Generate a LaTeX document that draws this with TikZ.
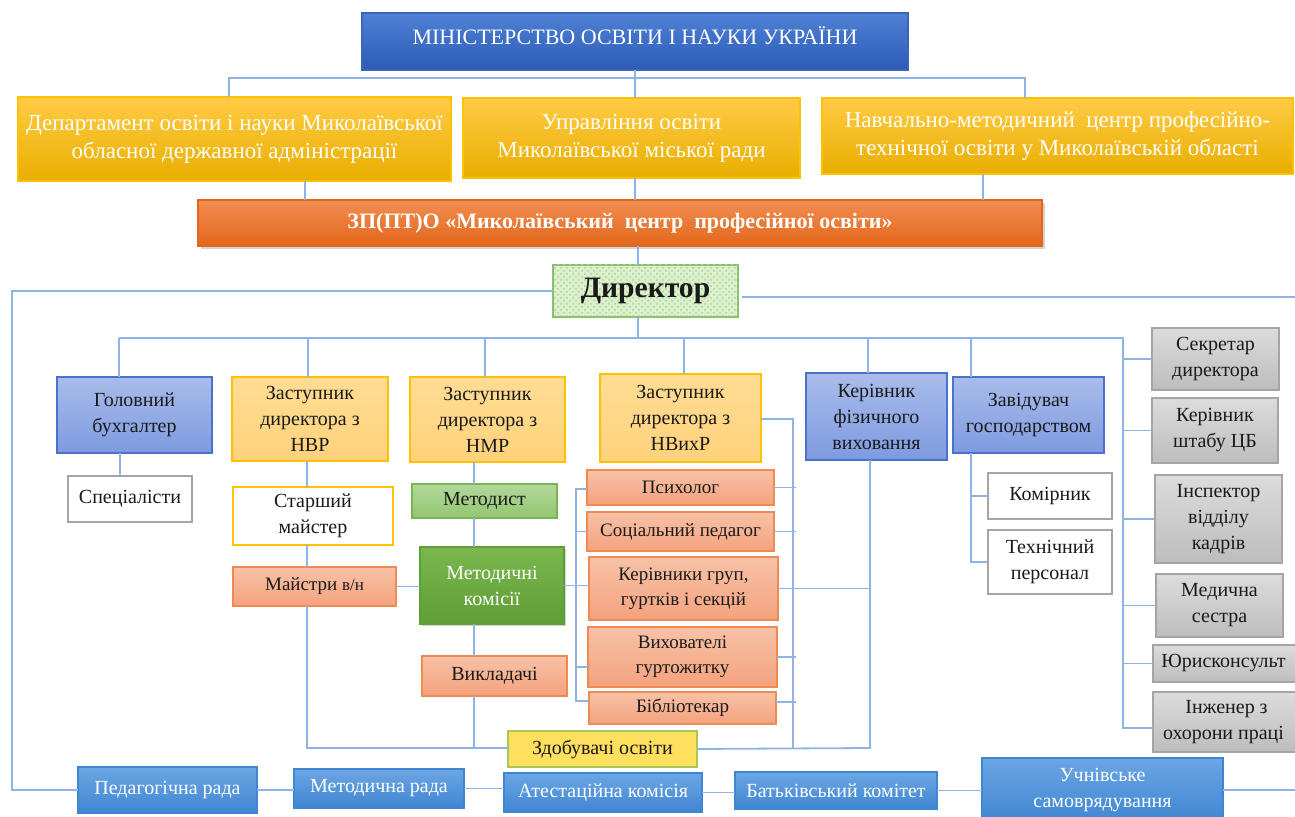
\documentclass[tikz,border=0pt]{standalone}
\usepackage{fontspec}
\setmainfont{Liberation Serif}
\usetikzlibrary{shadows,patterns}
\definecolor{lineblue}{HTML}{8FB4E3}
\definecolor{txt}{HTML}{1A1A1A}
\definecolor{minT}{HTML}{4F81D6}\definecolor{minB}{HTML}{2C5BB5}\definecolor{minD}{HTML}{3B66B8}
\definecolor{yelT}{HTML}{FFCB45}\definecolor{yelM}{HTML}{FFC000}\definecolor{yelB}{HTML}{E9AE00}
\definecolor{orT}{HTML}{F28D52}\definecolor{orB}{HTML}{E2671B}
\definecolor{dirF}{HTML}{DCF0CF}\definecolor{dirP}{HTML}{A8D58C}\definecolor{dirD}{HTML}{8AC06A}
\definecolor{mbT}{HTML}{A9BCEB}\definecolor{mbB}{HTML}{7E9AE0}\definecolor{mbD}{HTML}{4A72C8}
\definecolor{zT}{HTML}{FFDC94}\definecolor{zB}{HTML}{FFD27A}\definecolor{zD}{HTML}{FFC000}
\definecolor{saT}{HTML}{F8C2A7}\definecolor{saB}{HTML}{F4A27D}\definecolor{saD}{HTML}{EF8A52}
\definecolor{gmT}{HTML}{B2D89A}\definecolor{gmB}{HTML}{92C771}\definecolor{gmD}{HTML}{79B552}
\definecolor{gkT}{HTML}{7AB84F}\definecolor{gkB}{HTML}{5E9E35}
\definecolor{zdF}{HTML}{FFDF5E}\definecolor{zdD}{HTML}{A9C65B}
\definecolor{grT}{HTML}{DCDCDC}\definecolor{grB}{HTML}{BDBDBD}\definecolor{grD}{HTML}{A5A5A5}
\definecolor{bbT}{HTML}{6CA6E4}\definecolor{bbB}{HTML}{3F86D2}
\newcommand\mybox[7]{\node[#1, minimum width={(#5-#3)*0.5pt}, minimum height={(#6-#4)*0.5pt}] (#2) at ({(#3+#5)/2},{(#4+#6)/2}) {#7};}
\tikzset{
 base/.style={inner sep=1pt, outer sep=0pt, align=center, text=txt, line width=0.6pt},
 conn/.style={draw=lineblue, line width=0.9pt},
 fA/.style={font=\fontsize{11.5}{14}\selectfont},
 fB/.style={font=\fontsize{10}{13}\selectfont},
 fC/.style={font=\fontsize{9.5}{12.5}\selectfont},
 minbox/.style={base, draw=minD, top color=minT, bottom color=minB},
 yelbox/.style={base, fA, text=white, draw=yelM, top color=yelT, middle color=yelM, bottom color=yelB},
 orbox/.style={base, font=\fontsize{11}{14}\selectfont\bfseries, text=white, draw=orB, top color=orT, bottom color=orB,
   drop shadow={shadow xshift=1.5pt, shadow yshift=-1.5pt, opacity=0.35}},
 dirbox/.style={base, font=\fontsize{14.8}{18}\selectfont\bfseries, draw=dirD, fill=dirF,
   postaction={pattern=crosshatch dots, pattern color=dirP}},
 bluebox/.style={base, fB, draw=mbD, top color=mbT, bottom color=mbB},
 zbox/.style={base, fB, draw=zD, top color=zT, bottom color=zB},
 whitebox/.style={base, fB, draw=grD, fill=white},
 ywhitebox/.style={base, fB, draw=zD, fill=white},
 salbox/.style={base, fC, draw=saD, top color=saT, bottom color=saB},
 metbox/.style={base, fB, draw=gmD, top color=gmT, bottom color=gmB},
 mkbox/.style={base, fB, text=white, draw=gkB, top color=gkT, bottom color=gkB,
   drop shadow={shadow xshift=1.2pt, shadow yshift=-1.2pt, opacity=0.35}},
 zdbox/.style={base, fB, draw=zdD, fill=zdF},
 graybox/.style={base, fB, draw=grD, top color=grT, bottom color=grB},
 botbox/.style={base, fB, text=white, draw=bbB, top color=bbT, bottom color=bbB},
 lbl/.style={inner sep=0pt, align=center}
}
\begin{document}
\begin{tikzpicture}[x=0.5pt, y=-0.5pt]
\useasboundingbox (0,0) rectangle (1295,817);
% --- top level
\mybox{minbox}{min}{362}{13}{908}{70}{}
\node[lbl, text=white, font=\fontsize{11}{14}\selectfont] (mintext) at (635,36) {МІНІСТЕРСТВО ОСВІТИ І НАУКИ УКРАЇНИ};
\mybox{yelbox}{dep}{18}{97}{451}{181}{Департамент освіти і науки Миколаївської\\обласної державної адміністрації}
\mybox{yelbox}{upr}{463}{98}{800}{178}{Управління освіти\\Миколаївської міської ради}
\mybox{yelbox}{nmc}{822}{98}{1293}{174}{Навчально-методичний\ \ центр професійно-\\технічної освіти у Миколаївській області}
\mybox{orbox}{zp}{198}{200}{1042}{246}{ЗП(ПТ)О «Миколаївський\ \ центр\ \ професійної освіти»}
\mybox{dirbox}{dir}{553}{265}{738}{317}{Директор}
% --- second level
\mybox{bluebox}{gb}{57}{377}{212}{453}{Головний\\бухгалтер}
\mybox{zbox}{nvr}{232}{377}{388}{461}{Заступник\\директора з\\НВР}
\mybox{zbox}{nmr}{410}{377}{565}{462}{Заступник\\директора з\\НМР}
\mybox{zbox}{nvx}{600}{374}{761}{462}{Заступник\\директора з\\НВихР}
\mybox{bluebox}{kf}{806}{373}{947}{460}{Керівник\\фізичного\\виховання}
\mybox{bluebox}{zav}{953}{377}{1104}{453}{Завідувач\\господарством}
% --- third level
\mybox{whitebox}{spec}{68}{476}{192}{522}{Спеціалісти}
\mybox{ywhitebox}{stm}{233}{487}{393}{545}{Старший\\майстер}
\mybox{salbox}{mvn}{233}{567}{396}{606}{Майстри {\fontsize{8.5}{10}\selectfont в/н}}
\mybox{metbox}{met}{412}{484}{557}{518}{Методист}
\mybox{mkbox}{mk}{420}{547}{564}{624}{Методичні\\комісії}
\mybox{salbox}{vykl}{422}{656}{567}{696}{\fontsize{10}{13}\selectfont Викладачі}
\mybox{salbox}{psy}{587}{470}{774}{505}{Психолог}
\mybox{salbox}{soc}{587}{512}{774}{551}{Соціальний педагог}
\mybox{salbox}{kg}{589}{557}{778}{620}{Керівники груп,\\гуртків і секцій}
\mybox{salbox}{vyh}{588}{627}{777}{687}{Вихователі\\гуртожитку}
\mybox{salbox}{bib}{589}{692}{776}{724}{Бібліотекар}
\mybox{zdbox}{zdob}{508}{731}{697}{767}{Здобувачі освіти}
\mybox{whitebox}{kom}{988}{473}{1112}{519}{Комірник}
\mybox{whitebox}{tech}{988}{530}{1112}{594}{Технічний\\персонал}
% --- right column
\mybox{graybox}{sec}{1152}{328}{1279}{390}{Секретар\\директора}
\mybox{graybox}{sht}{1152}{398}{1278}{463}{Керівник\\штабу ЦБ}
\mybox{graybox}{insp}{1155}{475}{1282}{563}{Інспектор\\відділу\\кадрів}
\mybox{graybox}{med}{1156}{574}{1283}{637}{Медична\\сестра}
\mybox{graybox}{yur}{1153}{645}{1300}{682}{Юрисконсульт\hspace*{3pt}}
\mybox{graybox}{inzh}{1153}{692}{1300}{752}{Інженер з\\охорони праці\hspace*{3pt}}
% --- bottom row
\mybox{botbox}{ped}{78}{767}{257}{813}{Педагогічна рада}
\mybox{botbox}{mr}{294}{769}{464}{808}{Методична рада}
\mybox{botbox}{at}{504}{773}{702}{812}{Атестаційна комісія}
\mybox{botbox}{bk}{735}{772}{937}{809}{Батьківський комітет}
\mybox{botbox}{uch}{982}{758}{1223}{822}{Учнівське\\самоврядування}
% --- junction coordinates
\coordinate (t0) at (229,78); \coordinate (t1) at (635,78); \coordinate (t2) at (1025,78);
\coordinate (xa) at (305,190); \coordinate (xc) at (983,190);
\coordinate (d0) at (638,338);
\coordinate (L2) at (12,790);
\coordinate (R2) at (1295,297);
\coordinate (v1) at (119,338); \coordinate (v2) at (308,338); \coordinate (v3) at (485,338);
\coordinate (v4) at (684,338); \coordinate (v5) at (868,338); \coordinate (v6) at (971,338);
\coordinate (bE) at (1123,338); \coordinate (bEnd) at (1123,728);
\coordinate (s1) at (120,465);
\coordinate (c1) at (307,748); \coordinate (c2) at (474,748);
\coordinate (lb1) at (576,489); \coordinate (lb2) at (576,701);
\coordinate (rb1) at (793,419); \coordinate (rb2) at (793,748);
\coordinate (kx) at (870,748);
\coordinate (z1) at (971,562);
\coordinate (rEnd) at (1295,790);
% --- connectors top
\draw[conn] (dep.north -| t0) -- (t0) -- (t2) -- (nmc.north -| t2);
\draw[conn] (min.south -| t1) -- (upr.north -| t1);
\draw[conn] (dep.south -| xa) -- (zp.north -| xa);
\draw[conn] (upr.south -| t1) -- (zp.north -| t1);
\draw[conn] (nmc.south -| xc) -- (zp.north -| xc);
\draw[conn] (zp.south -| d0) -- (dir.north -| d0);
\draw[conn] (dir.south -| d0) -- (d0);
\draw[conn] (dir.west) -| (L2) -- (ped.west);
\draw[conn] ([xshift=2pt]dir.east |- R2) -- (R2);
% --- bus
\draw[conn] (v1) -- (bE) -- (bEnd) -- (inzh.west |- bEnd);
\foreach \v/\n in {v1/gb, v2/nvr, v3/nmr, v4/nvx, v5/kf, v6/zav} { \draw[conn] (\v) -- (\n.north -| \v); }
\foreach \n in {sec, sht, insp, med, yur} { \draw[conn] (bE |- \n.west) -- (\n.west); }
% --- left branches
\draw[conn] (gb.south -| s1) -- (spec.north -| s1);
\draw[conn] (nvr.south -| c1) -- (stm.north -| c1);
\draw[conn] (stm.south -| c1) -- (mvn.north -| c1);
\draw[conn] (mvn.south -| c1) -- (c1) -- (zdob.west |- c1);
\draw[conn] (nmr.south -| c2) -- (met.north -| c2);
\draw[conn] (met.south -| c2) -- (mk.north -| c2);
\draw[conn] (mk.south -| c2) -- (vykl.north -| c2);
\draw[conn] (vykl.south -| c2) -- (c2);
\draw[conn] (mvn.east) -- (mvn.east -| mk.west);
\draw[conn] (mk.east) -- (mk.east -| kg.west);
% --- bracket of НВихР
\draw[conn] (psy.west |- lb1) -- (lb1) -- (lb2) -- (bib.west |- lb2);
\draw[conn] (lb1 |- soc.west) -- (soc.west);
\draw[conn] ([yshift=-5pt]lb1 |- vyh.west) -- ([yshift=-5pt]vyh.west);
\draw[conn] (nvx.east |- rb1) -- (rb1) -- (rb2);
\draw[conn] (psy.east) -- ([xshift=1.5pt]psy.east -| rb1);
\draw[conn] (soc.east) -- ([xshift=1.5pt]soc.east -| rb1);
\draw[conn] (vyh.east) -- ([xshift=1.5pt]vyh.east -| rb1);
\draw[conn] ([yshift=3pt]bib.east) -- ([xshift=1.5pt,yshift=3pt]bib.east -| rb1);
\draw[conn] (kg.east) -- (kg.east -| kx);
\draw[conn] (zdob.east) -- (kx) -- (kf.south -| kx);
% --- Завідувач
\draw[conn] (zav.south -| z1) -- (z1) -- (tech.west |- z1);
\draw[conn] (z1 |- kom.west) -- (kom.west);
% --- bottom row
\draw[conn] (ped.east) -- (ped.east -| mr.west);
\draw[conn] (mr.east) -- (mr.east -| at.west);
\draw[conn] (at.east) -- (at.east -| bk.west);
\draw[conn] (bk.east) -- (bk.east -| uch.west);
\draw[conn] (uch.east |- rEnd) -- (rEnd);
\end{tikzpicture}
\end{document}
